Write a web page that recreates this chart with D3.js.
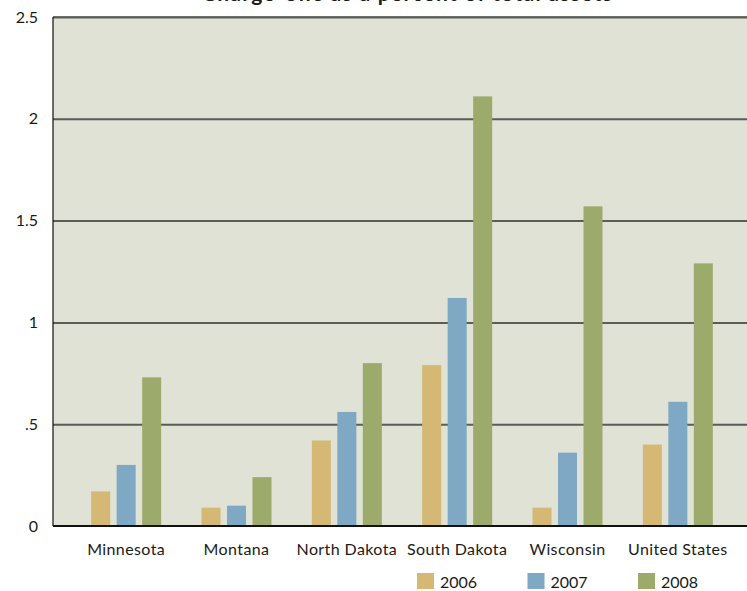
<!DOCTYPE html>
<html>
<head>
<meta charset="utf-8">
<script src="https://cdn.jsdelivr.net/npm/d3@7"></script>
<style>
  html, body { margin: 0; padding: 0; background: #ffffff; }
  svg { display: block; }
  text { font-family: Lato, "Open Sans", sans-serif; fill: #1a1a1a; }
</style>
</head>
<body>
<svg id="chart" width="747" height="591"></svg>
<script>
// Charge-offs as a percent of total assets, by state and year
const states = ["Minnesota", "Montana", "North Dakota", "South Dakota", "Wisconsin", "United States"];
const years = ["2006", "2007", "2008"];
const values2006 = [0.17, 0.09, 0.42, 0.79, 0.09, 0.40];
const values2007 = [0.30, 0.10, 0.56, 1.12, 0.36, 0.61];
const values2008 = [0.73, 0.24, 0.80, 2.11, 1.57, 1.29];
const yTicks = [0, 0.5, 1, 1.5, 2, 2.5];
const yTickLabels = ["0", ".5", "1", "1.5", "2", "2.5"];
const colors = ["#d5b874", "#7ea8c3", "#9caa6b"];

const seriesValues = [values2006, values2007, values2008];
const rows = states.map((s, i) => ({
  state: s,
  vals: years.map((y, j) => ({ year: y, value: seriesValues[j][i] }))
}));

const svg = d3.select("#chart");
const plot = { left: 53, top: 17, right: 747, bottom: 526 };

const y = d3.scaleLinear().domain([0, 2.5]).range([plot.bottom, plot.top]);
const x0 = d3.scaleBand().domain(states).range([71, 733]);
const groupW = 70;
const x1 = d3.scaleBand().domain(years).range([0, groupW]).paddingInner(0.255);
const color = d3.scaleOrdinal().domain(years).range(colors);

// plot background
svg.append("rect")
  .attr("x", plot.left).attr("y", plot.top)
  .attr("width", plot.right - plot.left).attr("height", plot.bottom - plot.top)
  .attr("fill", "#dfe2d4");

// horizontal gridlines
const yAxis = d3.axisLeft(y).tickValues(yTicks)
  .tickSize(-(plot.right - plot.left))
  .tickFormat((d, i) => yTickLabels[i]);
const gy = svg.append("g").attr("transform", `translate(${plot.left},0)`).call(yAxis);
gy.select(".domain").remove();
gy.selectAll(".tick line")
  .attr("stroke", "#595d55").attr("stroke-width", 2)
  .filter(d => d === 0).remove();
gy.selectAll(".tick text")
  .attr("x", -15).attr("font-size", 16).attr("fill", "#1a1a1a")
  .attr("font-family", "Lato, sans-serif");

// top border
svg.append("line")
  .attr("x1", plot.left).attr("x2", plot.right)
  .attr("y1", plot.top).attr("y2", plot.top)
  .attr("stroke", "#595d55").attr("stroke-width", 1.5);

// bars
const groups = svg.append("g").selectAll("g").data(rows).join("g")
  .attr("transform", d => `translate(${x0(d.state) + x0.bandwidth() / 2 - groupW / 2},0)`);
groups.selectAll("rect").data(d => d.vals).join("rect")
  .attr("x", d => x1(d.year))
  .attr("width", x1.bandwidth())
  .attr("y", d => y(d.value))
  .attr("height", d => y(0) - y(d.value))
  .attr("fill", d => color(d.year));

// axes lines
svg.append("line")
  .attr("x1", plot.left).attr("x2", plot.left)
  .attr("y1", plot.top).attr("y2", plot.bottom)
  .attr("stroke", "#111").attr("stroke-width", 1.2);
svg.append("line")
  .attr("x1", plot.left).attr("x2", plot.right)
  .attr("y1", plot.bottom).attr("y2", plot.bottom)
  .attr("stroke", "#111").attr("stroke-width", 2);

// category labels
const xAxis = d3.axisBottom(x0).tickSize(0).tickPadding(18);
const gx = svg.append("g").attr("transform", `translate(0,${plot.bottom})`).call(xAxis);
gx.select(".domain").remove();
gx.selectAll(".tick text").attr("font-size", 16).attr("fill", "#1a1a1a")
  .attr("letter-spacing", 0.4)
  .attr("font-family", "Lato, sans-serif");

// legend
const legend = svg.append("g").selectAll("g").data(years).join("g")
  .attr("transform", (d, i) => `translate(${417 + i * 110.5},573)`);
legend.append("rect").attr("width", 17).attr("height", 16).attr("fill", d => color(d));
legend.append("text").attr("x", 23).attr("y", 15).attr("font-size", 16).text(d => d);

// title (runs off the top edge of the page)
svg.append("text")
  .attr("x", 407).attr("y", 0.5)
  .attr("text-anchor", "middle")
  .attr("font-size", 21).attr("font-weight", "bold")
  .attr("textLength", 410).attr("lengthAdjust", "spacing")
  .text("Charge-offs as a percent of total assets");
</script>
</body>
</html>
